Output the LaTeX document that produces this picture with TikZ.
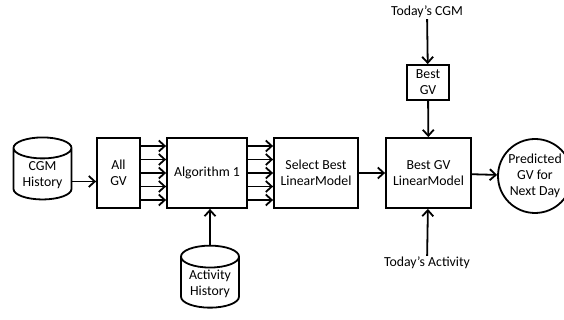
\documentclass[tikz,border=0pt]{standalone}
\usepackage{fontspec}
\setmainfont{Carlito}
\usepackage{tikz}
\usetikzlibrary{shapes.geometric,arrows.meta}

\begin{document}
\begin{tikzpicture}
		[
		x=1pt, y=1pt,
		font=\fontsize{13.8}{16}\selectfont,
		every node/.style={align=center, inner sep=1pt},
		box/.style={draw, line width=1.8pt, minimum width=#1, minimum height=70pt},
		box/.default=80pt,
		db/.style={draw, line width=1.8pt, cylinder, shape border rotate=90, aspect=0.5, minimum width=58pt, minimum height=62pt},
		flow/.style={line width=1.8pt, -{Straight Barb[length=6pt, width=11pt, line width=1.8pt]}}
		]
		\useasboundingbox (0,0) rectangle (564,320);
		% data sources
		\node[db] (cgm) at (42.5,144.5) {CGM\\History};
		\node[db] (act) at (210,36) {Activity\\History};
		% processing chain
		\node[box=43pt] (allgv) at (118.5,147) {All\\GV};
		\node[box=80pt] (alg) at (207,147) {Algorithm 1};
		\node[box=84pt] (sel) at (316,147) {Select Best\\LinearModel};
		\node[box=85pt] (blm) at (428.5,147) {Best GV\\LinearModel};
		\node[draw, line width=1.8pt, minimum width=42pt, minimum height=35pt] (bgv) at (428,237.5) {Best\\GV};
		\node[draw, line width=1.8pt, circle, minimum size=74pt, inner sep=0pt] (pred) at (535,144) {Predicted\\GV for\\Next Day};
		% daily inputs
		\node (tcgm) at (427,308) {Today’s CGM};
		\node (tact) at (427,57) {Today’s Activity};
		% arrows
		\draw[flow] ([yshift=-6pt]cgm.east) -- ([yshift=-6pt]cgm.east -| allgv.west);
		\foreach \dy in {27,13.5,0,-13.5,-27}{
			\draw[flow] ([yshift=\dy pt]allgv.east) -- ([yshift=\dy pt]alg.west);
			\draw[flow] ([yshift=\dy pt]alg.east) -- ([yshift=\dy pt]sel.west);
		}
		\draw[flow] (act.north) -- (act.north |- alg.south);
		\draw[flow] (sel) -- (blm);
		\draw[flow] (blm) -- (pred);
		\draw[flow] (tcgm) -- (bgv);
		\draw[flow] (bgv) -- (blm);
		\draw[flow] (tact) -- (blm);
\end{tikzpicture}
\end{document}
